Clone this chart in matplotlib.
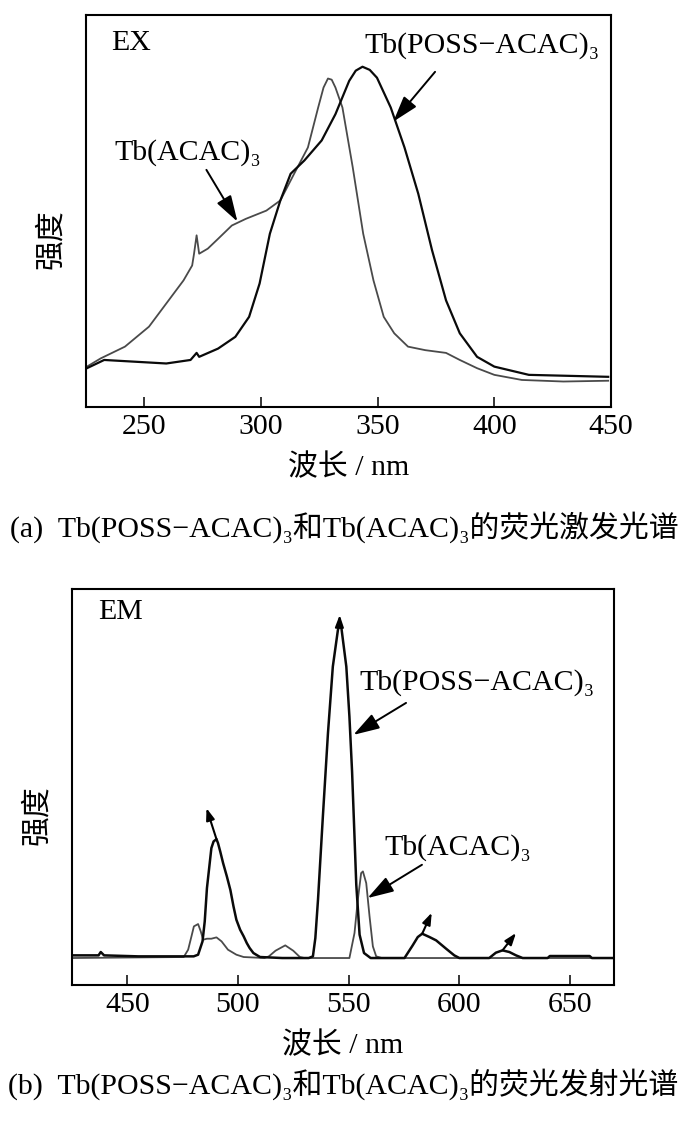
import matplotlib
matplotlib.use("Agg")
import matplotlib.pyplot as plt

plt.rcParams['font.family'] = ['Liberation Serif', 'DejaVu Serif', 'Noto Sans CJK SC']
FS = 21.5

# ---------------- data: excitation (EX) ----------------
ex_nm_acac = [225.4, 231.3, 241.7, 252.0, 259.4, 266.8, 270.5, 271.3, 272.4, 273.5, 277.2,
              281.6, 287.5, 293.5, 302.3, 308.3, 314.2, 320.1, 324.5, 326.8, 328.7, 330.3,
              331.9, 334.9, 339.3, 343.8, 348.2, 352.6, 357.1, 363.0, 370.4, 379.3, 385.2,
              392.6, 400.0, 411.8, 429.6, 448.8]
ex_int_acac = [0.103, 0.124, 0.154, 0.205, 0.264, 0.323, 0.361, 0.391, 0.438, 0.391, 0.404,
               0.429, 0.463, 0.480, 0.501, 0.527, 0.595, 0.662, 0.764, 0.815, 0.838, 0.835,
               0.815, 0.764, 0.612, 0.442, 0.323, 0.230, 0.188, 0.154, 0.145, 0.138, 0.120,
               0.099, 0.082, 0.069, 0.065, 0.067]

ex_nm_poss = [225.4, 232.8, 244.6, 259.4, 269.8, 272.4, 273.5, 281.6, 289.0, 294.9, 299.4,
              303.8, 308.3, 312.7, 318.6, 326.0, 331.9, 337.8, 340.6, 343.5, 346.6, 349.7,
              355.6, 361.5, 367.4, 373.3, 379.3, 385.2, 392.6, 400.0, 414.8, 448.8]
ex_int_poss = [0.099, 0.120, 0.116, 0.111, 0.120, 0.138, 0.128, 0.149, 0.179, 0.230, 0.315,
               0.442, 0.527, 0.595, 0.629, 0.680, 0.747, 0.832, 0.858, 0.868, 0.860, 0.840,
               0.764, 0.662, 0.544, 0.400, 0.272, 0.188, 0.128, 0.103, 0.082, 0.077]

# ---------------- data: emission (EM) ----------------
em_nm_poss = [425, 437, 438, 439.5, 455, 470, 480, 482, 484, 485, 486, 487, 488, 489, 490.3,
              491, 492, 493.3, 495, 496.6, 498, 499.3, 501, 502.6, 504, 505.3, 507, 510, 520,
              532, 533.9, 535, 536.2, 538.4, 540.7, 542.9, 545.2, 545.9, 546.7, 549.0, 550.4,
              551.6, 552.5, 553.5, 555, 557, 560, 575.3, 579, 581.3, 583.3, 586.6, 589.6,
              594.1, 597.8, 600.1, 613.6, 616.6, 619.6, 622.7, 625.7, 628.7, 640, 641, 659,
              660, 670]
em_int_poss = [0.008, 0.008, 0.018, 0.008, 0.005, 0.005, 0.005, 0.01, 0.05, 0.11, 0.21, 0.27,
               0.33, 0.35, 0.357, 0.345, 0.32, 0.285, 0.245, 0.204, 0.155, 0.115, 0.085,
               0.065, 0.045, 0.03, 0.015, 0.003, 0.0, 0.0, 0.005, 0.06, 0.175, 0.425, 0.675,
               0.875, 0.985, 1.0, 0.995, 0.875, 0.725, 0.56, 0.40, 0.22, 0.07, 0.015, 0.0,
               0.0, 0.038, 0.063, 0.073, 0.063, 0.053, 0.028, 0.008, 0.0, 0.0, 0.016, 0.023,
               0.018, 0.008, 0.0, 0.0, 0.006, 0.006, 0.0, 0.0]

em_nm_acac = [425, 475.5, 477.5, 479, 480.1, 482, 483.2, 484.3, 486, 488, 490.3, 492.6, 495.5,
              499.3, 502.6, 512, 514, 517, 521.4, 525, 528, 530, 550.4, 552.7, 554.2, 555.7,
              556.5, 558.0, 559.5, 561.0, 562.5, 565, 670]
em_int_acac = [0.0, 0.003, 0.025, 0.065, 0.095, 0.102, 0.08, 0.055, 0.058, 0.058, 0.062, 0.05,
               0.025, 0.01, 0.003, 0.0, 0.005, 0.022, 0.038, 0.022, 0.003, 0.0, 0.0, 0.075,
               0.175, 0.255, 0.26, 0.225, 0.125, 0.035, 0.005, 0.0, 0.0]

ex_ticks = [250, 300, 350, 400, 450]
em_ticks = [450, 500, 550, 600, 650]
label_poss = "Tb(POSS\u2212ACAC)\u2083"
label_acac = "Tb(ACAC)\u2083"
ylabel = "强度"
xlabel = "波长 / nm"
caption_a = "(a)  Tb(POSS\u2212ACAC)\u2083和Tb(ACAC)\u2083的荧光激发光谱"
caption_b = "(b)  Tb(POSS\u2212ACAC)\u2083和Tb(ACAC)\u2083的荧光发射光谱"

# peak markers (small arrows on the EM curve): (from_nm, from_val, to_nm, to_val)
em_peak_marks = [(490.3, 0.357, 485.8, 0.45), (545.9, 1.0, 546.0, 1.03),
                 (583.3, 0.073, 587.6, 0.136), (619.6, 0.023, 625.7, 0.075)]

fig = plt.figure(figsize=(7.0, 11.34), dpi=100)
ax1 = fig.add_axes([86/700, 1-407/1134, 525/700, 392/1134])
ax2 = fig.add_axes([72/700, 1-985/1134, 542/700, 396/1134])

GRAY = '#4a4a4a'
BLACK = '#0a0a0a'

def style(ax, ticks, xlim, ylim):
    ax.set_xlim(*xlim)
    ax.set_ylim(*ylim)
    ax.set_xticks(ticks)
    ax.set_xticklabels([str(t) for t in ticks])
    ax.set_yticks([])
    ax.tick_params(axis='x', direction='in', length=7, width=1.1, labelsize=FS, pad=5,
                   top=False)
    for s in ax.spines.values():
        s.set_linewidth(1.5)
        s.set_color('black')

# EX panel
ax1.plot(ex_nm_acac, ex_int_acac, color=GRAY, lw=1.3)
ax1.plot(ex_nm_poss, ex_int_poss, color=BLACK, lw=1.6)
style(ax1, ex_ticks, (225, 450), (0, 1))
ax1.set_xlabel(xlabel, fontsize=FS, va='center')
ax1.xaxis.set_label_coords(0.5, (407-467)/392)
ax1.set_ylabel(ylabel, fontsize=FS, va='center')
ax1.yaxis.set_label_coords((51.5-86)/525, (407-239)/392)
ax1.text(0.048, 0.929, "EX", transform=ax1.transAxes, fontsize=FS, va='center', ha='left')
ax1.text(0.531, 0.923, label_poss, transform=ax1.transAxes, fontsize=FS, va='center', ha='left')
ax1.text(0.0545, 0.649, label_acac, transform=ax1.transAxes, fontsize=FS, va='center', ha='left')
big = dict(arrowstyle='-|>,head_length=0.8,head_width=0.25', mutation_scale=20, lw=1.4,
           color='black', shrinkA=0, shrinkB=0)
ax1.annotate('', xy=(356.7, 0.728), xytext=(374.6, 0.855), arrowprops=big)
ax1.annotate('', xy=(289.9, 0.473), xytext=(276.6, 0.605), arrowprops=big)

# EM panel
ax2.plot(em_nm_acac, em_int_acac, color=GRAY, lw=1.3)
ax2.plot(em_nm_poss, em_int_poss, color=BLACK, lw=1.8)
style(ax2, em_ticks, (425, 670), (-0.081, 1.108))
ax2.set_xlabel(xlabel, fontsize=FS, va='center')
ax2.xaxis.set_label_coords(0.5, (985-1045)/396)
ax2.set_ylabel(ylabel, fontsize=FS, va='center')
ax2.yaxis.set_label_coords((37.5-72)/542, (985-815)/396)
ax2.text(0.048, 0.942, "EM", transform=ax2.transAxes, fontsize=FS, va='center', ha='left')
ax2.text(0.5295, 0.765, label_poss, transform=ax2.transAxes, fontsize=FS, va='center', ha='left')
ax2.text(0.5756, 0.346, label_acac, transform=ax2.transAxes, fontsize=FS, va='center', ha='left')
ax2.annotate('', xy=(552.2, 0.67), xytext=(576.0, 0.766), arrowprops=big)
ax2.annotate('', xy=(558.6, 0.18), xytext=(583.2, 0.28), arrowprops=big)
small = dict(arrowstyle='-|>,head_length=0.7,head_width=0.25', mutation_scale=10, lw=1.5,
             color='black', shrinkA=0, shrinkB=0)
for x0, y0, x1, y1 in em_peak_marks:
    ax2.annotate('', xy=(x1, y1), xytext=(x0, y0), arrowprops=small)

fig.text(10/700, 1-527/1134, caption_a, fontsize=FS, va='center', ha='left')
fig.text(8/700, 1-1084/1134, caption_b, fontsize=FS, va='center', ha='left')

fig.savefig("out.png", dpi=100, facecolor='white')
